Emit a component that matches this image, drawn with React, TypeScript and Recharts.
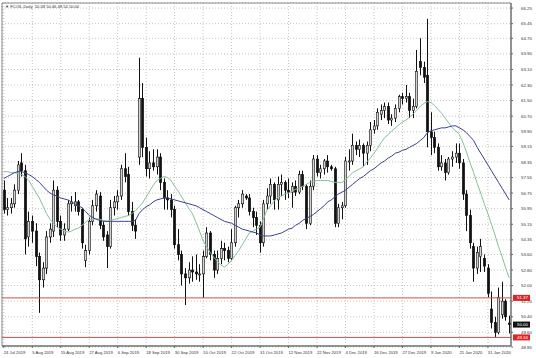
import React from "react";
import {
  Bar,
  CartesianGrid,
  ComposedChart,
  Line,
  ReferenceArea,
  ReferenceLine,
  XAxis,
  YAxis,
} from "recharts";

// date labels on the time scale, one every 8 daily bars
const tickLabels = [
  "24 Jul 2019", "5 Aug 2019", "15 Aug 2019", "27 Aug 2019", "6 Sep 2019",
  "18 Sep 2019", "30 Sep 2019", "10 Oct 2019", "22 Oct 2019", "31 Oct 2019",
  "12 Nov 2019", "22 Nov 2019", "4 Dec 2019", "16 Dec 2019", "27 Dec 2019",
  "9 Jan 2020", "21 Jan 2020", "31 Jan 2020",
];
const labelStep = 8;

const priceTicks = [
  66.25, 65.45, 64.7, 63.9, 63.1, 62.3, 61.5, 60.7, 59.9, 59.15, 58.35, 57.55,
  56.75, 55.95, 55.15, 54.35, 53.6, 52.8, 52.0, 51.2, 50.4, 49.6, 48.85,
];

const opens = [
  56.9, 55.9, 56.0, 56.2, 56.9, 58.3, 57.9, 54.5, 55.3, 54.8,
  53.5, 52.3, 52.9, 54.5, 54.8, 56.9, 55.3, 54.6, 54.9, 56.2,
  56.1, 56.3, 55.9, 53.3, 53.8, 55.3, 56.1, 56.6, 55.1, 54.6,
  54.0, 56.0, 56.3, 56.6, 58.0, 57.7, 55.8, 55.1, 58.6, 61.6,
  59.1, 58.0, 58.3, 58.1, 58.6, 57.3, 56.5, 56.4, 55.9, 54.1,
  53.6, 52.6, 52.4, 52.8, 52.7, 52.6, 52.6, 53.5, 54.7, 53.6,
  52.8, 53.4, 53.9, 53.8, 53.4, 54.2, 56.0, 56.2, 56.6, 56.5,
  55.8, 55.5, 55.1, 54.2, 56.2, 56.6, 57.2, 56.4, 57.2, 57.3,
  56.9, 56.8, 57.1, 56.8, 57.7, 57.1, 55.2, 57.1, 58.5, 57.8,
  58.0, 58.4, 58.1, 58.0, 55.2, 56.0, 56.1, 58.4, 58.4, 59.2,
  59.0, 59.2, 58.8, 59.2, 60.0, 60.2, 60.8, 61.0, 61.2, 60.5,
  60.6, 61.1, 61.7, 61.6, 61.7, 61.0, 61.2, 63.5, 63.2, 62.8,
  59.9, 59.6, 59.1, 58.1, 58.3, 57.8, 58.5, 58.6, 58.8, 58.3,
  56.7, 55.6, 54.0, 52.9, 53.5, 53.4, 52.9, 50.8, 50.1, 49.6,
  50.5, 51.2, 50.08,
];
const highs = [
  57.4, 56.5, 56.5, 57.2, 58.4, 58.8, 58.2, 55.8, 55.6, 55.2,
  53.7, 53.2, 54.8, 55.2, 57.4, 57.1, 55.6, 55.2, 56.4, 56.6,
  56.8, 56.4, 56.0, 54.1, 55.5, 56.4, 56.9, 56.8, 55.3, 54.8,
  56.4, 56.6, 56.9, 58.2, 58.8, 58.1, 56.3, 55.4, 63.7, 62.4,
  59.6, 58.9, 59.0, 59.0, 58.8, 57.5, 56.9, 56.7, 56.1, 54.9,
  53.8, 52.9, 53.2, 53.5, 53.6, 53.1, 53.8, 55.0, 54.8, 53.8,
  53.8, 54.3, 54.2, 54.0, 54.9, 56.1, 56.4, 56.9, 56.7, 56.7,
  56.0, 55.8, 55.3, 56.4, 57.0, 57.5, 57.3, 57.6, 57.7, 57.4,
  57.5, 57.3, 57.4, 57.9, 57.9, 57.2, 57.4, 58.7, 58.7, 58.2,
  58.5, 58.7, 58.2, 58.1, 56.2, 56.3, 58.6, 59.0, 59.8, 59.4,
  59.5, 59.3, 59.4, 60.4, 60.5, 61.1, 61.3, 61.4, 61.4, 60.8,
  61.3, 61.8, 61.9, 62.3, 61.9, 61.6, 64.1, 64.7, 63.5, 65.7,
  60.9, 59.9, 59.3, 58.7, 58.5, 58.6, 58.9, 59.3, 59.3, 58.5,
  56.9, 55.9, 54.2, 54.0, 54.4, 53.6, 53.1, 51.7, 50.4, 51.9,
  52.2, 51.3, 50.46,
];
const lows = [
  55.7, 55.6, 55.7, 56.0, 56.7, 57.6, 53.6, 54.0, 54.2, 53.0,
  50.6, 51.9, 52.6, 54.2, 54.5, 55.0, 54.3, 54.3, 54.8, 55.8,
  55.8, 55.6, 53.9, 52.95, 53.6, 55.1, 55.8, 54.9, 54.3, 52.9,
  53.9, 55.6, 55.9, 56.4, 57.3, 55.6, 54.8, 54.4, 58.2, 58.6,
  57.6, 57.5, 57.9, 57.7, 56.9, 55.9, 55.9, 55.5, 53.9, 53.3,
  52.0, 51.0, 52.1, 52.2, 52.3, 52.2, 51.37, 53.4, 53.3, 52.4,
  52.6, 53.1, 53.3, 53.2, 53.3, 54.0, 55.5, 56.0, 56.4, 55.6,
  55.0, 54.6, 53.7, 54.0, 55.9, 56.2, 55.9, 55.9, 56.6, 56.4,
  56.5, 56.0, 56.6, 56.7, 56.9, 54.9, 55.1, 56.9, 57.6, 57.5,
  57.7, 57.8, 57.9, 55.0, 55.0, 55.4, 56.0, 57.9, 58.2, 58.7,
  58.6, 58.1, 58.2, 58.9, 59.8, 60.0, 60.5, 60.6, 60.3, 60.2,
  60.4, 60.9, 61.3, 61.4, 60.6, 60.6, 61.1, 62.8, 62.4, 59.1,
  58.7, 58.8, 57.9, 57.9, 57.4, 57.7, 58.1, 58.3, 58.0, 56.4,
  54.8, 53.9, 52.2, 52.6, 52.7, 52.7, 51.4, 49.8, 49.34, 49.5,
  50.3, 50.2, 49.54,
];
const closes = [
  55.9, 56.0, 56.2, 56.9, 58.2, 57.9, 54.4, 55.3, 54.8, 53.5,
  52.3, 52.9, 54.5, 54.9, 56.9, 55.3, 54.6, 54.9, 56.2, 56.3,
  56.3, 55.8, 54.2, 53.8, 55.3, 56.1, 56.7, 55.1, 54.5, 54.0,
  56.0, 56.3, 56.6, 58.0, 57.6, 55.8, 55.1, 54.8, 61.6, 59.1,
  58.0, 58.3, 58.1, 58.6, 57.3, 56.5, 56.4, 55.9, 54.1, 53.6,
  52.6, 52.4, 52.8, 52.7, 52.6, 52.6, 53.5, 54.7, 53.6, 52.8,
  53.4, 53.9, 53.8, 53.4, 54.2, 56.0, 56.2, 56.7, 56.5, 55.8,
  55.5, 55.1, 54.2, 56.2, 56.6, 57.2, 56.4, 57.2, 57.3, 56.9,
  56.8, 57.1, 56.8, 57.7, 57.1, 55.2, 57.1, 58.5, 57.8, 58.0,
  58.4, 58.1, 58.0, 55.2, 56.0, 56.1, 58.4, 58.4, 59.2, 59.0,
  59.2, 58.8, 59.2, 60.0, 60.2, 60.9, 61.0, 61.2, 60.5, 60.6,
  61.1, 61.7, 61.6, 61.7, 61.0, 61.2, 63.0, 63.2, 62.7, 59.9,
  59.6, 59.1, 58.1, 58.3, 57.8, 58.5, 58.6, 58.8, 58.3, 56.7,
  55.6, 54.2, 52.9, 53.7, 54.0, 53.0, 51.6, 50.1, 49.6, 51.4,
  51.2, 50.4, 50.0,
];

// fast (green) and slow (navy) moving averages as drawn on the chart
const maFast = [
  57.85, 57.85, 57.8, 57.8, 57.75, 57.7, 57.6, 57.4, 57.1, 56.8,
  56.5, 56.1, 55.7, 55.4, 55.2, 55.0, 54.9, 54.8, 54.75, 54.8,
  54.9, 54.95, 55.1, 55.25, 55.4, 55.4, 55.45, 55.4, 55.35, 55.3,
  55.35, 55.4, 55.45, 55.5, 55.55, 55.6, 55.7, 55.85, 56.05, 56.25,
  56.55, 56.85, 57.15, 57.4, 57.5, 57.6, 57.55, 57.4, 57.1, 56.85,
  56.55, 56.25, 55.95, 55.7, 55.25, 54.8, 54.3, 54.0, 53.7, 53.45,
  53.25, 53.05, 52.95, 53.1, 53.3, 53.55, 53.8, 54.1, 54.4, 54.7,
  54.8, 54.9, 55.0, 55.45, 55.9, 56.1, 56.35, 56.55, 56.6, 56.7,
  56.75, 56.85, 56.95, 57.0, 57.1, 57.2, 57.3, 57.35, 57.4, 57.4,
  57.4, 57.4, 57.35, 57.3, 57.3, 57.3, 57.45, 57.6, 57.8, 57.9,
  58.0, 58.1, 58.35, 58.55, 58.8, 59.05, 59.35, 59.6, 59.75, 59.95,
  60.1, 60.25, 60.4, 60.5, 60.65, 60.8, 61.0, 61.2, 61.35, 61.45,
  61.4, 61.25, 61.05, 60.85, 60.6, 60.35, 60.1, 59.95, 59.75, 59.35,
  58.85, 58.3, 57.8, 57.25, 56.75, 56.2, 55.7, 55.15, 54.6, 54.0,
  53.5, 52.9, 52.4,
];
const maSlow = [
  57.5, 57.6, 57.7, 57.8, 57.85, 57.85, 57.8, 57.7, 57.6, 57.45,
  57.3, 57.1, 56.9, 56.75, 56.65, 56.6, 56.5, 56.45, 56.4, 56.3,
  56.2, 56.1, 56.0, 55.8, 55.6, 55.5, 55.4, 55.35, 55.3, 55.3,
  55.3, 55.3, 55.3, 55.3, 55.3, 55.3, 55.3, 55.35, 55.7, 55.9,
  56.05, 56.15, 56.3, 56.4, 56.45, 56.5, 56.5, 56.45, 56.4, 56.35,
  56.3, 56.25, 56.2, 56.15, 56.1, 56.0, 55.9, 55.8, 55.7, 55.6,
  55.5, 55.4, 55.3, 55.25, 55.2, 55.1, 55.0, 54.9, 54.85, 54.8,
  54.75, 54.7, 54.6, 54.55, 54.55, 54.55, 54.6, 54.65, 54.7, 54.8,
  54.9, 54.95, 55.1, 55.2, 55.35, 55.45, 55.55, 55.65, 55.8, 55.95,
  56.1, 56.3, 56.4, 56.55, 56.7, 56.8, 56.9, 57.05, 57.2, 57.35,
  57.5, 57.6, 57.75, 57.9, 58.0, 58.15, 58.3, 58.4, 58.55, 58.65,
  58.8, 58.85, 58.95, 59.0, 59.1, 59.2, 59.3, 59.45, 59.6, 59.85,
  59.95, 60.0, 60.05, 60.1, 60.1, 60.15, 60.2, 60.2, 60.1, 60.0,
  59.85, 59.65, 59.45, 59.1, 58.8, 58.5, 58.2, 57.9, 57.6, 57.3,
  57.0, 56.7, 56.4,
];

const resistance = 51.37;
const support = 49.34;
const lastPrice = 50.0;
const yMin = 48.9;
const yMax = 66.51;

const data = closes.map((c, i) => ({
  i,
  open: opens[i],
  high: highs[i],
  low: lows[i],
  close: c,
  range: [lows[i], highs[i]],
  maFast: maFast[i],
  maSlow: maSlow[i],
}));

const tickIdx = tickLabels.map((_, k) => k * labelStep);
const font = "'Liberation Sans', Arial, sans-serif";

function Candle(props: any) {
  const { x, y, width, height, payload } = props;
  if (!payload) return null;
  const { open, close, high, low } = payload;
  const top = Math.min(y, y + height);
  const h = Math.abs(height);
  const k = h / (high - low || 1);
  const cx = Math.round(x + width / 2) + 0.5;
  const yo = top + (high - open) * k;
  const yc = top + (high - close) * k;
  const bull = close >= open;
  const bTop = Math.min(yo, yc);
  const bH = Math.max(Math.abs(yc - yo), 1);
  return (
    <g>
      <line x1={cx} x2={cx} y1={top} y2={top + h} stroke="#111" strokeWidth={1} />
      <rect
        x={cx - 1.2}
        y={bTop}
        width={2.4}
        height={bH}
        fill={bull ? "#d2d2d2" : "#111"}
        stroke="#111"
        strokeWidth={0.6}
      />
    </g>
  );
}

function TimeTick(props: any) {
  const { x, y, payload } = props;
  return (
    <text x={x} y={y + 4} fontSize={4.2} fontFamily={font} fill="#333" textAnchor="start">
      {tickLabels[payload.value / labelStep]}
    </text>
  );
}

function PriceTick(props: any) {
  const { x, y, payload } = props;
  return (
    <text x={x + 6} y={y + 1.6} fontSize={4.4} fontFamily={font} fill="#333" textAnchor="start">
      {payload.value.toFixed(2)}
    </text>
  );
}

function PriceTag(props: any) {
  const { viewBox, text, bg } = props;
  if (!viewBox) return null;
  const { x, y, width } = viewBox;
  return (
    <g>
      <rect x={x + width + 2} y={y - 3} width={17} height={6} fill={bg} />
      <text x={x + width + 6} y={y + 1.6} fontSize={4.4} fontFamily={font} fill="#fff">
        {text}
      </text>
    </g>
  );
}

export default function App() {
  return (
    <div style={{ position: "absolute", left: 0, top: 0, width: 536, height: 358, background: "#fff" }}>
      <ComposedChart
        width={536}
        height={358}
        data={data}
        margin={{ top: 3, right: 0, bottom: 0, left: 2 }}
        barCategoryGap={0}
      >
        <CartesianGrid stroke="#c4c4c4" strokeDasharray="1 2" />
        <XAxis
          dataKey="i"
          type="category"
          ticks={tickIdx}
          interval={0}
          height={12}
          tick={<TimeTick />}
          tickSize={2}
          axisLine={{ stroke: "#666" }}
          tickLine={{ stroke: "#666" }}
        />
        <YAxis
          orientation="right"
          width={25}
          domain={[yMin, yMax]}
          ticks={priceTicks}
          interval={0}
          tick={<PriceTick />}
          tickSize={2}
          axisLine={{ stroke: "#666" }}
          tickLine={{ stroke: "#666" }}
        />
        <ReferenceArea y1={yMin} y2={yMax} fill="none" stroke="#888" strokeWidth={1} />
        <ReferenceLine
          y={resistance}
          stroke="#d94c4c"
          strokeWidth={1}
          label={<PriceTag text={resistance.toFixed(2)} bg="#e02424" />}
        />
        <ReferenceLine
          y={support}
          stroke="#d94c4c"
          strokeWidth={1}
          label={<PriceTag text={support.toFixed(2)} bg="#e02424" />}
        />
        <ReferenceLine
          y={lastPrice}
          stroke="none"
          label={<PriceTag text={lastPrice.toFixed(2)} bg="#111" />}
        />
        <Line
          dataKey="maFast"
          stroke="#86c096"
          strokeWidth={1}
          dot={false}
          isAnimationActive={false}
        />
        <Line
          dataKey="maSlow"
          stroke="#3a3f8f"
          strokeWidth={1}
          dot={false}
          isAnimationActive={false}
        />
        <Bar dataKey="range" shape={<Candle />} barSize={3} isAnimationActive={false} />
      </ComposedChart>
      <div
        style={{
          position: "absolute",
          left: 5,
          top: 4,
          fontSize: 4.1,
          lineHeight: "5px",
          fontFamily: font,
          color: "#333",
          whiteSpace: "pre",
        }}
      >
        {"\u25BC FCOIL,Daily  50.08 50.46 49.54 50.00"}
      </div>
    </div>
  );
}
